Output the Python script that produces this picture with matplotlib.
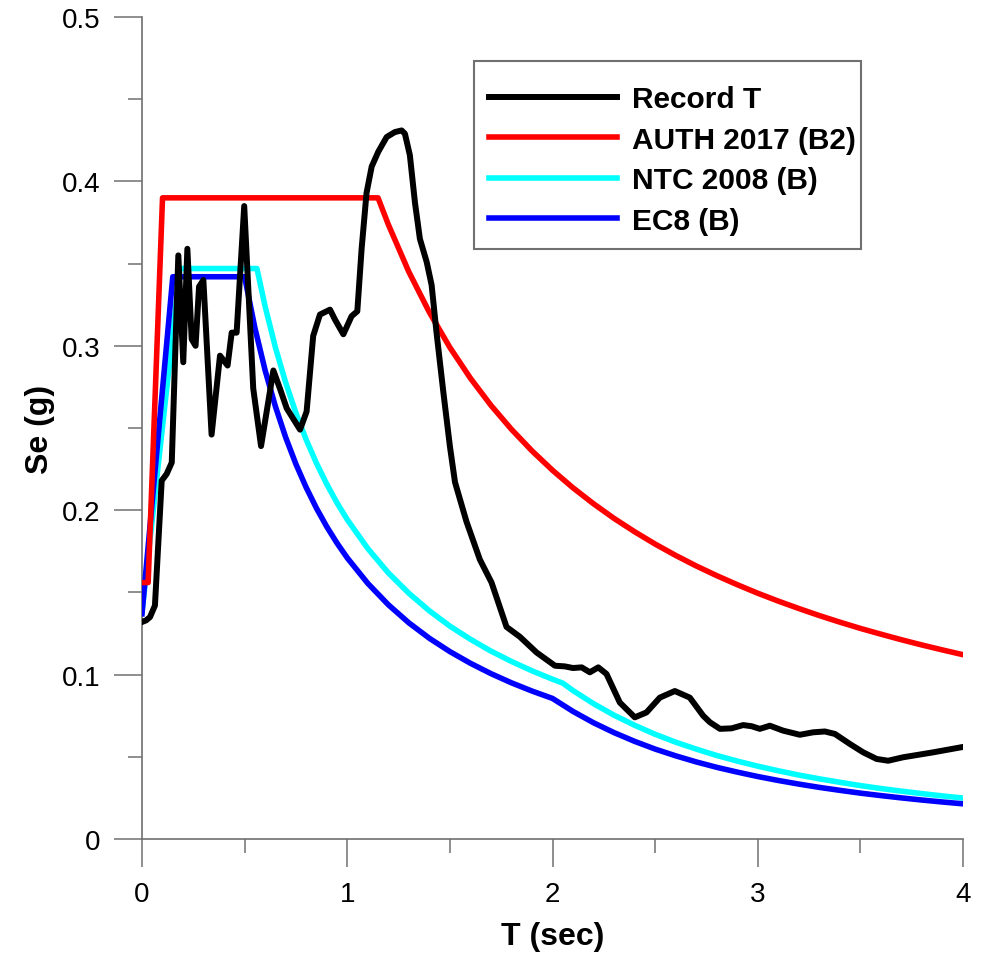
import matplotlib
matplotlib.use("Agg")
import matplotlib.pyplot as plt
from matplotlib.ticker import MultipleLocator
from matplotlib.patches import Rectangle

plt.rcParams['font.family'] = ['Liberation Sans', 'DejaVu Sans']

# ---- data ----
rec_T = [0.0, 0.02, 0.039, 0.063, 0.096, 0.12, 0.145, 0.177, 0.201, 0.221, 0.242, 0.261,
         0.278, 0.299, 0.339, 0.38, 0.417, 0.437, 0.461, 0.498, 0.542, 0.58, 0.64, 0.672,
         0.705, 0.74, 0.77, 0.802, 0.834, 0.867, 0.916, 0.94, 0.981, 1.021, 1.049, 1.07,
         1.094, 1.119, 1.151, 1.192, 1.232, 1.265, 1.281, 1.305, 1.33, 1.354, 1.387, 1.411,
         1.435, 1.468, 1.50, 1.525, 1.581, 1.646, 1.703, 1.776, 1.841, 1.922, 2.012, 2.06,
         2.10, 2.142, 2.182, 2.223, 2.263, 2.328, 2.401, 2.458, 2.523, 2.596, 2.669, 2.734,
         2.767, 2.816, 2.872, 2.929, 2.97, 3.01, 3.059, 3.124, 3.205, 3.27, 3.327, 3.376,
         3.449, 3.514, 3.579, 3.635, 3.708, 3.854, 4.0]
rec_Se = [0.132, 0.133, 0.135, 0.142, 0.218, 0.222, 0.229, 0.355, 0.290, 0.359, 0.304, 0.300,
          0.336, 0.340, 0.246, 0.294, 0.288, 0.308, 0.308, 0.385, 0.274, 0.239, 0.285, 0.274,
          0.262, 0.255, 0.249, 0.260, 0.306, 0.319, 0.322, 0.316, 0.307, 0.318, 0.321, 0.359,
          0.393, 0.409, 0.418, 0.427, 0.430, 0.431, 0.429, 0.416, 0.387, 0.365, 0.351, 0.337,
          0.308, 0.272, 0.239, 0.217, 0.193, 0.170, 0.156, 0.129, 0.123, 0.1135, 0.1054, 0.105,
          0.104, 0.1044, 0.1014, 0.1044, 0.1004, 0.083, 0.074, 0.077, 0.086, 0.090, 0.086, 0.075,
          0.071, 0.067, 0.0673, 0.0693, 0.0686, 0.067, 0.0689, 0.0659, 0.0634, 0.0649, 0.0654, 0.0639,
          0.0578, 0.0527, 0.0487, 0.0476, 0.0497, 0.0527, 0.056]

auth_T = [0.0, 0.03, 0.10, 1.15, 1.2, 1.3, 1.4, 1.5, 1.6, 1.7, 1.8, 1.9, 2.0, 2.1, 2.2, 2.3,
          2.4, 2.5, 2.6, 2.7, 2.8, 2.9, 3.0, 3.1, 3.2, 3.3, 3.4, 3.5, 3.6, 3.7, 3.8, 3.9, 4.0]
auth_Se = [0.156, 0.156, 0.390, 0.390, 0.3738, 0.3450, 0.3204, 0.2990, 0.2803, 0.2638, 0.2492,
           0.2361, 0.2243, 0.2136, 0.2039, 0.1950, 0.1869, 0.1794, 0.1725, 0.1661, 0.1602,
           0.1547, 0.1495, 0.1447, 0.1402, 0.1359, 0.1319, 0.1281, 0.1246, 0.1212, 0.1180,
           0.1150, 0.1121]

ntc_T = [0.0, 0.185, 0.56, 0.60, 0.65, 0.70, 0.75, 0.80, 0.85, 0.90, 0.95, 1.0, 1.1, 1.2,
         1.3, 1.4, 1.5, 1.6, 1.7, 1.8, 1.9, 2.0, 2.05, 2.1, 2.2, 2.3, 2.4, 2.5, 2.6, 2.7,
         2.8, 2.9, 3.0, 3.1, 3.2, 3.3, 3.4, 3.5, 3.6, 3.7, 3.8, 3.9, 4.0]
ntc_Se = [0.138, 0.347, 0.347, 0.3239, 0.2990, 0.2776, 0.2591, 0.2429, 0.2286, 0.2159, 0.2045,
          0.1943, 0.1767, 0.1619, 0.1495, 0.1388, 0.1295, 0.1215, 0.1143, 0.1080, 0.1023,
          0.0972, 0.0948, 0.0903, 0.0823, 0.0753, 0.0692, 0.0637, 0.0589, 0.0547, 0.0508,
          0.0474, 0.0443, 0.0415, 0.0389, 0.0366, 0.0345, 0.0325, 0.0307, 0.0291, 0.0276,
          0.0262, 0.0249]

ec8_T = [0.0, 0.15, 0.50, 0.55, 0.60, 0.65, 0.70, 0.75, 0.80, 0.85, 0.90, 0.95, 1.0, 1.1,
         1.2, 1.3, 1.4, 1.5, 1.6, 1.7, 1.8, 1.9, 2.0, 2.1, 2.2, 2.3, 2.4, 2.5, 2.6, 2.7, 2.8,
         2.9, 3.0, 3.1, 3.2, 3.3, 3.4, 3.5, 3.6, 3.7, 3.8, 3.9, 4.0]
ec8_Se = [0.137, 0.342, 0.342, 0.3109, 0.2850, 0.2631, 0.2443, 0.2280, 0.2138, 0.2012, 0.1900,
          0.1800, 0.1710, 0.1555, 0.1425, 0.1315, 0.1221, 0.1140, 0.1069, 0.1006, 0.0950,
          0.0900, 0.0855, 0.0776, 0.0707, 0.0647, 0.0594, 0.0547, 0.0506, 0.0469, 0.0436,
          0.0407, 0.0380, 0.0356, 0.0334, 0.0314, 0.0296, 0.0279, 0.0264, 0.0250, 0.0237,
          0.0225, 0.0214]

labels = ['Record T', 'AUTH 2017 (B2)', 'NTC 2008 (B)', 'EC8 (B)']
colors = ['#000000', '#ff0000', '#00ffff', '#0000ff']

# ---- figure ----
fig = plt.figure(figsize=(9.91, 9.54), dpi=100)
ax = fig.add_axes([142 / 991, 1 - 840 / 954, 821 / 991, 822 / 954])

lw = 4.0
l_ntc, = ax.plot(ntc_T, ntc_Se, color=colors[2], lw=lw, zorder=3)
l_ec8, = ax.plot(ec8_T, ec8_Se, color=colors[3], lw=lw, zorder=3)
l_auth, = ax.plot(auth_T, auth_Se, color=colors[1], lw=lw, zorder=4)
l_rec, = ax.plot(rec_T, rec_Se, color=colors[0], lw=lw + 0.3, zorder=5,
                 solid_joinstyle='round')

ax.set_xlim(0, 4)
ax.set_ylim(0, 0.5)

for s in ['top', 'right']:
    ax.spines[s].set_visible(False)
for s in ['left', 'bottom']:
    ax.spines[s].set_color('#707070')
    ax.spines[s].set_linewidth(1.2)

ax.xaxis.set_major_locator(MultipleLocator(1))
ax.xaxis.set_minor_locator(MultipleLocator(0.5))
ax.yaxis.set_major_locator(MultipleLocator(0.1))
ax.yaxis.set_minor_locator(MultipleLocator(0.05))
ax.tick_params(which='major', direction='out', length=20, width=1.1, color='#707070',
               labelsize=20, pad=10)
ax.tick_params(which='minor', direction='out', length=10, width=1.1, color='#707070')

ax.xaxis.set_major_formatter(plt.FuncFormatter(lambda v, p: f"{v:g}"))
ax.yaxis.set_major_formatter(plt.FuncFormatter(lambda v, p: f"{v:g}"))

ax.set_xlabel('T (sec)', fontsize=23, fontweight='bold', labelpad=10.5)
ax.set_ylabel('Se (g)', fontsize=23, fontweight='bold', labelpad=4.5)

# legend frame
frame = Rectangle(((474 - 142) / 821, (840 - 250) / 822), (861 - 474) / 821, 188 / 822,
                  transform=ax.transAxes, facecolor='white', edgecolor='#707070',
                  linewidth=1.5, zorder=6, clip_on=False)
ax.add_patch(frame)

leg = ax.legend([l_rec, l_auth, l_ntc, l_ec8], labels,
                loc='upper left',
                bbox_to_anchor=((489 - 142) / 821, (840 - 86) / 822),
                borderaxespad=0, borderpad=0, frameon=False,
                prop={'size': 21.5, 'weight': 'bold'},
                handlelength=4.3, handletextpad=0.5, labelspacing=0.42)
leg.set_zorder(7)

fig.savefig('out.png', dpi=100)
